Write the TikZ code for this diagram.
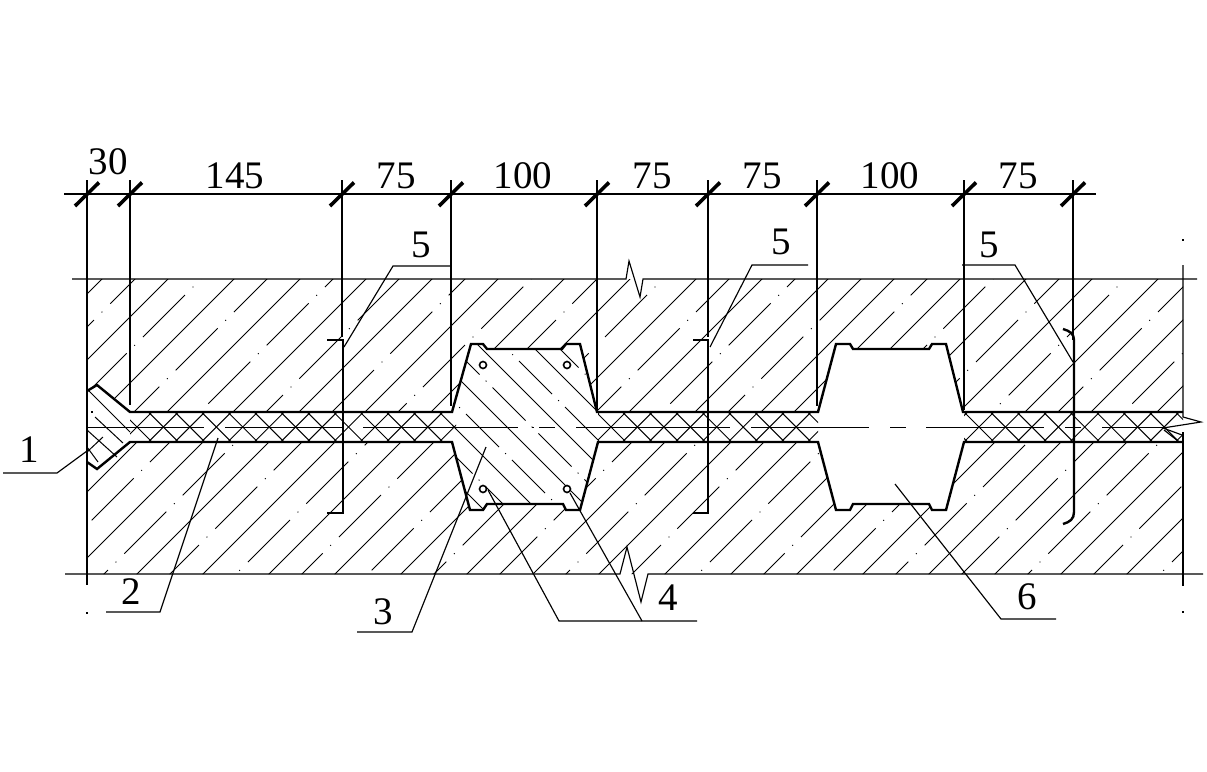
\documentclass[tikz,border=0pt]{standalone}
\usepackage{fontspec}
\setmainfont{Liberation Serif}
\newcommand{\regionTop}{(87,279) -- (1183,279) -- (1183,412) -- (963,412) -- (946,344) -- (932,344) -- (929,349) -- (853,349) -- (850,344) -- (836,344) -- (818,412) -- (597,412) -- (580,344) -- (566,344) -- (562,349) -- (487,349) -- (483,344) -- (471,344) -- (452,412) -- (130,412) -- (97,385) -- (87,391) -- cycle}
\newcommand{\regionBot}{(87,574) -- (1183,574) -- (1183,442) -- (964,442) -- (946,510) -- (932,510) -- (929,504) -- (853,504) -- (850,510) -- (836,510) -- (818,442) -- (598,442) -- (580,510) -- (566,510) -- (563,504) -- (487,504) -- (483,510) -- (470,510) -- (452,442) -- (130,442) -- (97,469) -- (87,462) -- cycle}
\newcommand{\regionPlug}{(452,412) -- (471,344) -- (483,344) -- (487,349) -- (562,349) -- (566,344) -- (580,344) -- (597,412) -- (598,442) -- (580,510) -- (566,510) -- (563,504) -- (487,504) -- (483,510) -- (470,510) -- (452,442) -- cycle}
\tikzset{
  thin line/.style={line width=1.15pt,black},
  hatch/.style={line width=1pt,black},
  heavy/.style={line width=2.4pt,black,line join=miter},
  tick/.style={line width=3.6pt,black},
  lbl/.style={font=\fontsize{39}{39}\selectfont,inner sep=0pt,text=black},
  rebar/.style={line width=1.6pt,black,fill=white},
  speck/.style={fill=black,inner sep=0pt,minimum size=1.5pt}
}
\begin{document}
\begin{tikzpicture}[x=1pt,y=-1pt]
\fill[white] (0,0) rectangle (1207,771);
\useasboundingbox (0,0) rectangle (1207,771);
% concrete hatch
\begin{scope}
\clip \regionTop \regionBot;
\foreach \k in {-2,...,21}{
  \pgfmathsetmacro\cc{447+66*\k}
  \draw[hatch] (\cc-200,200) -- (\cc-620,620);
  \pgfmathsetmacro\cd{414+66*\k}
  \pgfmathsetmacro\ys{320+33.33*\k}
  \pgfmathsetmacro\mm{floor((\ys-200)/58.33)}
  \pgfmathsetmacro\yst{\ys-58.33*\mm}
  \draw[hatch,dash pattern=on 59.4pt off 11.3pt on 1pt off 10.8pt] (\cd-\yst,\yst) -- (\cd-620,620);
}
\end{scope}
% plug hatch
\begin{scope}
\clip \regionPlug;
\foreach \k in {-3,...,4}{
  \pgfmathsetmacro\dc{27+53*\k}
  \draw[hatch] (\dc+300,300) -- (\dc+560,560);
  \pgfmathsetmacro\dd{52+53*\k}
  \pgfmathsetmacro\ys{414-26.5*\k}
  \pgfmathsetmacro\mm{floor((\ys-290)/46)}
  \pgfmathsetmacro\yst{\ys-46*\mm}
  \draw[hatch,dash pattern=on 46.7pt off 8.8pt on 1pt off 8.55pt] (\dd+\yst,\yst) -- (\dd+560,560);
}
\end{scope}
% band cross hatch
\begin{scope}
\clip (130,412) rectangle (456,442) (598,412) rectangle (818,442) (964,412) rectangle (1183,442);
\foreach \xs/\nn in {137/14,611/10,979/9}{
  \foreach \k in {-2,...,\nn}{
    \pgfmathsetmacro\px{\xs+26.44*\k}
    \draw[hatch] (\px-20,447) -- (\px+20,407);
    \draw[hatch] (\px-20,407) -- (\px+20,447);
  }
}
\end{scope}
% flare hatch
\draw[hatch] (88,390) -- (130,432);
\draw[hatch] (95,417) -- (123,443);
\draw[hatch] (87,430) -- (117,457);
\draw[hatch] (87,447) -- (98,462);
\draw[hatch] (103,437) -- (87,452);
\node[speck] (s0) at (92,412) {};
% centre line
\foreach \a/\b in {87/204,225/343,363/518,532/533.5,539/555,576/730,751/869,890/906,926/1044,1065/1081,1102/1163}{
  \draw[thin line] (\a,427.5) -- (\b,427.5);
}
% break at right
\draw[thin line] (1183,265) -- (1183,417) -- (1201,422) -- (1163,428) -- (1182,435);
\draw[thin line] (1164,430) -- (1178,441);
\draw[thin line] (1183,432) -- (1183,586);
\node[speck] (s1) at (1183,240) {};
\node[speck] (s2) at (1183,612) {};
\node[speck] (s3) at (87,613) {};
% horizontals with breaks
\draw[thin line] (72,279) -- (626,279) -- (629,261) -- (640,297) -- (643,279) -- (1197,279);
\draw[thin line] (65,574) -- (620,574) -- (627,547) -- (641,602) -- (648,574) -- (1203,574);
% dimension lines
\draw[thin line] (64,194) -- (1096,194);
\foreach \x/\e in {87/267,130/405,342/337,451/406,597/410,708/337,817/406,964/410,1073/340}{
  \draw[thin line] (\x,180) -- (\x,\e);
  \draw[tick] (\x-12,206) -- (\x+12,182.5);
}
% outlines
\draw[heavy] (87,267) -- (87,585);
\draw[heavy] (87,391) -- (97,385) -- (130,412) -- (452,412) -- (471,344) -- (483,344) -- (487,349) -- (562,349) -- (566,344) -- (580,344) -- (597,412) -- (818,412) -- (836,344) -- (850,344) -- (853,349) -- (929,349) -- (932,344) -- (946,344) -- (963,412) -- (1183,412);
\draw[heavy] (87,462) -- (97,469) -- (130,442) -- (452,442) -- (470,510) -- (483,510) -- (487,504) -- (563,504) -- (566,510) -- (580,510) -- (598,442) -- (818,442) -- (836,510) -- (850,510) -- (853,504) -- (929,504) -- (932,510) -- (946,510) -- (964,442) -- (1183,442);
% rebars
\foreach \x/\y in {483/365,567/365,483/489,567/489}{
  \draw[rebar] (\x,\y) circle (3.5);
}
% brackets
\draw[heavy] (327,340) -- (343,340) -- (343,513) -- (327,513);
\draw[heavy] (693,340) -- (708,340) -- (708,513) -- (693,513);
\draw[heavy] (1063,329) .. controls (1070,331) and (1074,334) .. (1074,340) -- (1074,512) .. controls (1074,519) and (1070,522) .. (1063,524);
% leaders
\draw[thin line] (451,266) -- (393,266) -- (344,347);
\draw[thin line] (808,265) -- (752,265) -- (710,347);
\draw[thin line] (962,265) -- (1015,265) -- (1073,362);
\draw[thin line] (3,473) -- (57,473) -- (87,451);
\draw[thin line] (106,612) -- (160,612) -- (218,438);
\draw[thin line] (357,632) -- (412,632) -- (486,447);
\draw[thin line] (488,490) -- (559,621) -- (697,621);
\draw[thin line] (570,493) -- (642,621);
\draw[thin line] (1056,619) -- (1001,619) -- (895,484);
% labels
\node[lbl] (d30) at (108,162) {30};
\node[lbl] (d145) at (235,176) {145};
\node[lbl] (d75a) at (396,176) {75};
\node[lbl] (d100a) at (523,176) {100};
\node[lbl] (d75b) at (652,176) {75};
\node[lbl] (d75c) at (762,176) {75};
\node[lbl] (d100b) at (890,176) {100};
\node[lbl] (d75d) at (1018,176) {75};
\node[lbl] (n5a) at (421,245) {5};
\node[lbl] (n5b) at (781,242) {5};
\node[lbl] (n5c) at (989,245) {5};
\node[lbl] (n1) at (29,450) {1};
\node[lbl] (n2) at (131,592) {2};
\node[lbl] (n3) at (383,612) {3};
\node[lbl] (n4) at (668,598) {4};
\node[lbl] (n6) at (1027,597) {6};
\end{tikzpicture}
\end{document}
